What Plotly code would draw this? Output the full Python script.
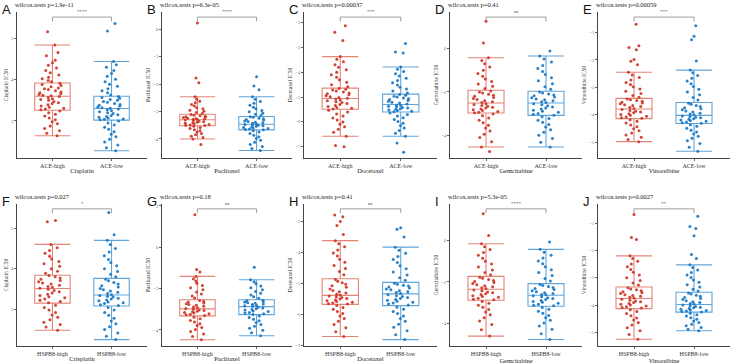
import plotly.graph_objects as go

# ---------------- data ----------------
groups_top = ["ACE-high", "ACE-low"]
groups_bot = ["HSPB8-high", "HSPB8-low"]
panel_letters = ["A", "B", "C", "D", "E", "F", "G", "H", "I", "J"]
p_texts = ["wilcox.tests p=1.9e-11", "wilcox.tests p=6.3e-05", "wilcox.tests p=0.00037",
           "wilcox.tests p=0.41", "wilcox.tests p=0.00059", "wilcox.tests p=0.027",
           "wilcox.tests p=0.18", "wilcox.tests p=0.41", "wilcox.tests p=5.3e-05",
           "wilcox.tests p=0.0027"]
sig_labels = ["****", "****", "***", "ns", "***", "*", "ns", "ns", "****", "**"]
drug_names = ["Cisplatin", "Paclitaxel", "Docetaxel", "Gemcitabine", "Vinorelbine",
              "Crisplatin", "Paclitaxel", "Docetaxel", "Gemcitabine", "Vinorelbine"]
y_titles = ["Cisplatin IC50", "Paclitaxel IC50", "Docetaxel IC50", "Gemcitabine IC50",
            "Vinorelbine IC50", "Cisplatin IC50", "Paclitaxel IC50", "Docetaxel IC50",
            "Gemcitabine IC50", "Vinorelbine IC50"]
y_ranges = [[2.1, 5.64], [-4.7, 0.64], [-7.46, -1.57], [-5.05, 1.69], [-5.58, -0.25],
            [2.09, 5.6], [-4.78, 2.1], [-7.03, -2.43], [-5.09, 1.76], [-5.5, -0.3]]
y_ticks = [[3, 4, 5], [-4, -3, -2, -1, 0], [-7, -6, -5, -4, -3, -2], [-4, -2, 0],
           [-5, -4, -3, -2, -1], [3, 4, 5], [-4, -2, 0, 2], [-7, -6, -5, -4, -3],
           [-4, -2, 0], [-5, -4, -3, -2, -1]]

# box statistics per panel: [high, low], each (lowerfence, q1, median, q3, upperfence)
box_stats = [
    [(2.64, 3.26, 3.60, 3.92, 4.84), (2.28, 3.02, 3.30, 3.60, 4.44)],
    [(-4.00, -3.52, -3.30, -3.10, -2.46), (-4.42, -3.67, -3.46, -3.18, -2.46)],
    [(-6.58, -5.49, -5.06, -4.64, -3.37), (-6.58, -5.60, -5.30, -4.88, -3.79)],
    [(-4.54, -2.97, -2.51, -1.92, -0.42), (-4.54, -3.08, -2.51, -1.97, -0.34)],
    [(-4.98, -4.14, -3.79, -3.40, -2.45), (-5.33, -4.32, -4.02, -3.55, -2.37)],
    [(2.48, 3.15, 3.51, 3.84, 4.60), (2.25, 3.08, 3.35, 3.76, 4.70)],
    [(-4.47, -3.32, -2.98, -2.54, -1.41), (-4.28, -3.26, -2.87, -2.54, -1.57)],
    [(-6.72, -5.68, -5.39, -4.85, -3.62), (-6.82, -5.72, -5.34, -4.97, -3.83)],
    [(-4.61, -2.88, -2.35, -1.73, -0.16), (-4.77, -3.17, -2.64, -2.08, -0.43)],
    [(-5.25, -4.13, -3.76, -3.34, -2.20), (-4.94, -4.26, -3.98, -3.53, -2.53)],
]

a_high = [5.16, 4.84, 4.66, 4.58, 4.47, 4.41, 4.35, 4.28, 4.22, 4.17, 4.11, 4.06, 4.02, 3.98, 3.95,
          3.91, 3.88, 3.86, 3.83, 3.8, 3.78, 3.76, 3.73, 3.7, 3.68, 3.66, 3.64, 3.62, 3.61,
          3.59, 3.57, 3.54, 3.52, 3.5, 3.47, 3.44, 3.42, 3.39, 3.36, 3.33, 3.31, 3.29, 3.27,
          3.24, 3.2, 3.16, 3.12, 3.07, 3.03, 2.98, 2.93, 2.88, 2.82, 2.76, 2.7, 2.64]
a_low = [5.36, 5.18, 4.44, 4.36, 4.3, 4.22, 4.15, 4.08, 4.01, 3.95, 3.89, 3.84, 3.78, 3.73, 3.68, 3.63,
         3.59, 3.57, 3.55, 3.52, 3.5, 3.47, 3.45, 3.42, 3.4, 3.38, 3.36, 3.34, 3.32, 3.31,
         3.29, 3.27, 3.25, 3.22, 3.2, 3.18, 3.15, 3.13, 3.11, 3.09, 3.07, 3.05, 3.04, 3.03,
         3.0, 2.95, 2.9, 2.85, 2.8, 2.74, 2.68, 2.62, 2.56, 2.49, 2.42, 2.35, 2.28]
b_high = [0.24, -1.77, -1.95, -4.2, -2.46, -2.55, -2.62, -2.68, -2.74, -2.8, -2.86, -2.9, -2.95, -2.99,
          -3.03, -3.07, -3.11, -3.13, -3.15, -3.17, -3.19, -3.2, -3.22, -3.24, -3.25, -3.27, -3.28,
          -3.29, -3.31, -3.33, -3.35, -3.37, -3.39, -3.41, -3.43, -3.45, -3.47, -3.49, -3.5, -3.51,
          -3.54, -3.58, -3.62, -3.66, -3.7, -3.75, -3.8, -3.85, -3.9, -3.95, -4.0]
b_low = [-1.73, -2.07, -2.2, -2.46, -2.55, -2.63, -2.7, -2.77, -2.84, -2.9, -2.96, -3.01, -3.06, -3.1,
         -3.14, -3.19, -3.21, -3.24, -3.26, -3.29, -3.31, -3.34, -3.36, -3.39, -3.41, -3.43, -3.45,
         -3.47, -3.49, -3.5, -3.52, -3.54, -3.56, -3.58, -3.6, -3.62, -3.64, -3.65, -3.66,
         -3.7, -3.75, -3.8, -3.86, -3.92, -3.98, -4.05, -4.12, -4.2, -4.28, -4.35, -4.42]
c_high = [-2.13, -2.39, -2.72, -7.0, -6.95, -3.37, -3.48, -3.58, -3.7, -3.8, -3.9, -4.0, -4.1, -4.2,
          -4.3, -4.4, -4.5, -4.58, -4.65, -4.69, -4.72, -4.76, -4.8, -4.84, -4.87, -4.91, -4.95,
          -4.99, -5.02, -5.05, -5.08, -5.12, -5.15, -5.19, -5.22, -5.26, -5.3, -5.34, -5.38, -5.42,
          -5.45, -5.48, -5.53, -5.6, -5.68, -5.76, -5.84, -5.92, -6.0, -6.1, -6.2, -6.3, -6.42, -6.58]
c_low = [-2.84, -3.18, -3.22, -7.22, -6.85, -3.79, -3.88, -3.97, -4.06, -4.15, -4.24, -4.33, -4.42,
         -4.51, -4.6, -4.68, -4.76, -4.84, -4.9, -4.93, -4.97, -5.0, -5.04, -5.07, -5.1, -5.14,
         -5.17, -5.21, -5.24, -5.28, -5.32, -5.34, -5.37, -5.39, -5.42, -5.44, -5.47, -5.49, -5.52,
         -5.54, -5.57, -5.59, -5.64, -5.7, -5.76, -5.83, -5.9, -5.98, -6.06, -6.15, -6.25, -6.35,
         -6.46, -6.58]
d_high = [1.26, 0.26, -4.74, -0.42, -0.55, -0.7, -0.85, -1.0, -1.15, -1.28, -1.4, -1.52, -1.63, -1.74,
          -1.84, -1.95, -2.0, -2.05, -2.1, -2.15, -2.2, -2.25, -2.3, -2.35, -2.4, -2.45, -2.49,
          -2.54, -2.58, -2.62, -2.66, -2.7, -2.74, -2.78, -2.82, -2.86, -2.9, -2.93, -2.96,
          -3.02, -3.1, -3.2, -3.3, -3.42, -3.54, -3.66, -3.8, -3.95, -4.1, -4.3, -4.54]
d_low = [-0.11, -0.34, -0.48, -0.62, -0.78, -0.92, -1.06, -1.2, -1.34, -1.48, -1.62, -1.76, -1.88,
         -2.0, -2.05, -2.09, -2.14, -2.18, -2.23, -2.27, -2.32, -2.36, -2.41, -2.45, -2.49,
         -2.54, -2.59, -2.64, -2.69, -2.74, -2.79, -2.84, -2.89, -2.94, -2.99, -3.03, -3.07,
         -3.14, -3.22, -3.3, -3.4, -3.5, -3.62, -3.74, -3.86, -4.0, -4.15, -4.32, -4.54]
e_high = [-0.7, -1.48, -1.55, -1.63, -1.98, -2.05, -2.18, -2.45, -2.55, -2.64, -2.73, -2.82, -2.9,
          -2.98, -3.06, -3.14, -3.22, -3.3, -3.36, -3.42, -3.45, -3.48, -3.51, -3.54, -3.57, -3.6,
          -3.63, -3.66, -3.7, -3.73, -3.77, -3.81, -3.84, -3.87, -3.9, -3.93, -3.96, -3.99, -4.02,
          -4.05, -4.08, -4.11, -4.13, -4.18, -4.24, -4.3, -4.37, -4.44, -4.51, -4.58, -4.66, -4.74,
          -4.82, -4.9, -4.98]
e_low = [-0.75, -1.14, -1.26, -2.04, -2.37, -2.47, -2.57, -2.67, -2.77, -2.87, -2.97, -3.07, -3.17,
         -3.27, -3.37, -3.46, -3.58, -3.62, -3.66, -3.7, -3.74, -3.78, -3.82, -3.86, -3.9, -3.94,
         -3.97, -4.0, -4.04, -4.06, -4.09, -4.11, -4.14, -4.16, -4.19, -4.21, -4.24, -4.26, -4.29,
         -4.31, -4.36, -4.42, -4.49, -4.56, -4.63, -4.7, -4.78, -4.86, -4.95, -5.05, -5.18, -5.33]
f_high = [5.19, 5.16, 4.6, 4.52, 4.45, 4.38, 4.31, 4.24, 4.18, 4.12, 4.06, 4.0, 3.94, 3.89,
          3.83, 3.8, 3.77, 3.74, 3.71, 3.68, 3.65, 3.62, 3.59, 3.56, 3.54, 3.52,
          3.49, 3.46, 3.43, 3.4, 3.37, 3.34, 3.31, 3.28, 3.25, 3.22, 3.19, 3.16,
          3.1, 3.04, 2.98, 2.92, 2.86, 2.8, 2.74, 2.68, 2.62, 2.56, 2.48]
f_low = [5.39, 4.84, 4.7, 4.6, 4.5, 4.41, 4.32, 4.23, 4.15, 4.07, 4.0, 3.93, 3.86, 3.8,
         3.74, 3.7, 3.66, 3.62, 3.58, 3.55, 3.51, 3.48, 3.45, 3.42, 3.39, 3.36,
         3.34, 3.32, 3.3, 3.27, 3.25, 3.23, 3.21, 3.18, 3.16, 3.14, 3.11, 3.09,
         3.04, 2.98, 2.92, 2.85, 2.78, 2.71, 2.64, 2.57, 2.5, 2.41, 2.33, 2.25]
g_high = [1.57, -1.07, -1.2, -1.41, -1.52, -1.63, -1.74, -1.85, -1.96, -2.06, -2.16, -2.26, -2.36,
          -2.45, -2.57, -2.61, -2.65, -2.69, -2.73, -2.77, -2.81, -2.85, -2.89, -2.93, -2.96,
          -3.0, -3.03, -3.06, -3.09, -3.12, -3.15, -3.18, -3.21, -3.24, -3.27, -3.3,
          -3.38, -3.46, -3.54, -3.62, -3.7, -3.79, -3.88, -3.98, -4.08, -4.2, -4.32, -4.47]
g_low = [-0.97, -1.57, -1.67, -1.77, -1.87, -1.96, -2.05, -2.14, -2.23, -2.31, -2.39, -2.47,
         -2.56, -2.59, -2.62, -2.65, -2.68, -2.71, -2.74, -2.77, -2.8, -2.83, -2.85,
         -2.9, -2.94, -2.97, -3.01, -3.04, -3.08, -3.11, -3.15, -3.18, -3.22, -3.25,
         -3.32, -3.4, -3.48, -3.56, -3.64, -3.73, -3.82, -3.92, -4.02, -4.14, -4.28]
h_high = [-2.79, -2.85, -3.0, -3.13, -3.42, -3.62, -3.72, -3.82, -3.92, -4.02, -4.12, -4.22, -4.32,
          -4.42, -4.52, -4.62, -4.72, -4.88, -4.93, -4.98, -5.03, -5.08, -5.13, -5.18, -5.23,
          -5.27, -5.31, -5.35, -5.38, -5.41, -5.44, -5.46, -5.49, -5.51, -5.54, -5.56, -5.59,
          -5.61, -5.64, -5.66, -5.67, -5.72, -5.78, -5.84, -5.91, -5.98, -6.06, -6.14, -6.23,
          -6.33, -6.44, -6.57, -6.72]
h_low = [-3.2, -3.25, -3.5, -3.83, -3.93, -4.03, -4.13, -4.23, -4.33, -4.43, -4.53, -4.63, -4.73,
         -4.82, -4.9, -5.0, -5.03, -5.06, -5.09, -5.12, -5.15, -5.18, -5.21, -5.24, -5.27, -5.3,
         -5.33, -5.37, -5.4, -5.43, -5.46, -5.49, -5.52, -5.55, -5.58, -5.61, -5.64, -5.67, -5.7,
         -5.77, -5.84, -5.91, -5.98, -6.06, -6.14, -6.23, -6.32, -6.42, -6.53, -6.66, -6.82]
i_high = [1.28, 0.24, -0.16, -0.3, -0.44, -0.58, -0.72, -0.86, -1.0, -1.14, -1.28, -1.42, -1.55,
          -1.66, -1.77, -1.82, -1.88, -1.93, -1.98, -2.03, -2.08, -2.13, -2.18, -2.23, -2.28,
          -2.32, -2.39, -2.43, -2.48, -2.52, -2.57, -2.61, -2.66, -2.7, -2.74, -2.79, -2.83,
          -2.86, -2.94, -3.03, -3.12, -3.22, -3.33, -3.45, -3.58, -3.72, -3.88, -4.05, -4.3, -4.61]
i_low = [-0.08, -0.43, -0.57, -0.71, -0.85, -0.99, -1.13, -1.27, -1.41, -1.55, -1.69, -1.83, -1.96,
         -2.12, -2.17, -2.22, -2.27, -2.32, -2.37, -2.42, -2.47, -2.52, -2.56, -2.6, -2.62,
         -2.67, -2.71, -2.76, -2.8, -2.85, -2.89, -2.94, -2.98, -3.03, -3.07, -3.12, -3.15,
         -3.23, -3.32, -3.41, -3.51, -3.62, -3.73, -3.85, -3.98, -4.12, -4.28, -4.5, -4.77]
j_high = [-0.69, -1.53, -1.6, -2.2, -2.3, -2.4, -2.5, -2.6, -2.7, -2.8, -2.9, -3.0, -3.1, -3.19,
          -3.27, -3.37, -3.41, -3.44, -3.48, -3.51, -3.55, -3.58, -3.62, -3.65, -3.68, -3.71,
          -3.74, -3.79, -3.82, -3.85, -3.88, -3.91, -3.94, -3.97, -4.0, -4.03, -4.06, -4.09,
          -4.11, -4.17, -4.24, -4.31, -4.39, -4.47, -4.55, -4.64, -4.73, -4.83, -4.94, -5.08, -5.25]
j_low = [-0.75, -1.13, -1.2, -1.47, -2.15, -2.3, -2.53, -2.63, -2.72, -2.81, -2.9, -2.99, -3.08,
         -3.17, -3.26, -3.34, -3.42, -3.49, -3.56, -3.6, -3.64, -3.68, -3.72, -3.76, -3.8, -3.84,
         -3.88, -3.91, -3.94, -3.96, -4.0, -4.03, -4.05, -4.08, -4.1, -4.13, -4.15, -4.18, -4.2,
         -4.22, -4.24, -4.25, -4.3, -4.35, -4.4, -4.46, -4.52, -4.58, -4.64, -4.7, -4.76, -4.82,
         -4.88, -4.94]

points = [(a_high, a_low), (b_high, b_low), (c_high, c_low), (d_high, d_low), (e_high, e_low),
          (f_high, f_low), (g_high, g_low), (h_high, h_low), (i_high, i_low), (j_high, j_low)]

# ---------------- styling ----------------
W, H = 734, 364
COL_PT = ["#D0392A", "#1C7BC6"]
COL_BOX = ["rgba(222,110,95,0.85)", "rgba(80,155,215,0.9)"]
SERIF = "Liberation Serif, Times New Roman, serif"
x_px = [(17, 147), (162, 292), (304, 437), (450, 582), (598, 730)]
y_px = [(12, 159), (205, 348)]

fig = go.Figure()
layout_axes = {}
annotations = []
shapes = []

for k in range(10):
    row, col = divmod(k, 5)
    n = k + 1
    xa = "x" if n == 1 else f"x{n}"
    ya = "y" if n == 1 else f"y{n}"
    cats = groups_top if row == 0 else groups_bot
    for g in range(2):
        lf, q1, md, q3, uf = box_stats[k][g]
        fig.add_trace(go.Box(
            x=[cats[g]], q1=[q1], median=[md], q3=[q3], lowerfence=[lf], upperfence=[uf],
            boxpoints=False, fillcolor="rgba(255,255,255,0)", whiskerwidth=1, width=0.6,
            line=dict(color=COL_BOX[g], width=1.1), xaxis=xa, yaxis=ya, showlegend=False,
            hoverinfo="skip"))
        vals = points[k][g]
        fig.add_trace(go.Box(
            x=[cats[g]] * len(vals), y=vals, boxpoints="all", jitter=0.85, pointpos=0,
            width=0.6, fillcolor="rgba(0,0,0,0)", line=dict(color="rgba(0,0,0,0)", width=0),
            marker=dict(color=COL_PT[g], size=3, opacity=0.95, line=dict(width=0)),
            xaxis=xa, yaxis=ya, showlegend=False, hoverinfo="skip"))

    x0, x1 = x_px[col]
    y0, y1 = y_px[row]
    xd = [x0 / W, x1 / W]
    yd = [1 - y1 / H, 1 - y0 / H]
    key = "" if n == 1 else str(n)
    layout_axes[f"xaxis{key}"] = dict(
        domain=xd, anchor=ya, type="category", categoryorder="array", categoryarray=cats,
        range=[-0.6, 1.6], showline=True, linecolor="#444", linewidth=0.8, showgrid=False,
        zeroline=False, ticks="outside", ticklen=2, tickcolor="#666", tickwidth=0.6,
        tickfont=dict(family=SERIF, size=6, color="#333"),
        title=dict(text=drug_names[k], font=dict(family=SERIF, size=6.5, color="#222"),
                   standoff=0))
    layout_axes[f"yaxis{key}"] = dict(
        domain=yd, anchor=xa, range=y_ranges[k], tickvals=y_ticks[k], showline=True,
        linecolor="#444", linewidth=0.8, showgrid=False, zeroline=False, ticks="outside",
        ticklen=2, tickcolor="#666", tickwidth=0.6,
        tickfont=dict(family=SERIF, size=4.5, color="#666"),
        title=dict(text=y_titles[k], font=dict(family=SERIF, size=5.5, color="#333"),
                   standoff=2))

    # panel letter
    annotations.append(dict(text=panel_letters[k], x=(x0 - 16) / W, y=1 - (y0 - 11) / H,
                            xref="paper", yref="paper", xanchor="left", yanchor="top",
                            showarrow=False, borderpad=0,
                            font=dict(family="Liberation Sans, Arial", size=13, color="#111")))
    # p-value text
    annotations.append(dict(text=p_texts[k], x=(x0 - 3) / W, y=1 - (y0 - 7) / H,
                            xref="paper", yref="paper", xanchor="left", yanchor="middle",
                            showarrow=False, borderpad=0,
                            font=dict(family=SERIF, size=6.5, color="#222")))
    # significance bracket
    yb, yt = 0.965, 0.935
    for (xa0, ya0, xa1, ya1) in [(0, yb, 1, yb), (0, yb, 0, yt), (1, yb, 1, yt)]:
        shapes.append(dict(type="line", xref=xa, yref=f"{ya} domain", x0=xa0, y0=ya0,
                           x1=xa1, y1=ya1, line=dict(color="#777", width=0.7)))
    annotations.append(dict(text=sig_labels[k], x=0.5, y=yb + 0.005, xref=xa,
                            yref=f"{ya} domain", xanchor="center", yanchor="bottom",
                            showarrow=False, font=dict(family=SERIF, size=5, color="#333")))

fig.update_layout(
    width=W, height=H, margin=dict(l=0, r=0, t=0, b=0),
    paper_bgcolor="white", plot_bgcolor="white", boxmode="overlay",
    annotations=annotations, shapes=shapes, showlegend=False, **layout_axes)

fig.write_html("out.html")
